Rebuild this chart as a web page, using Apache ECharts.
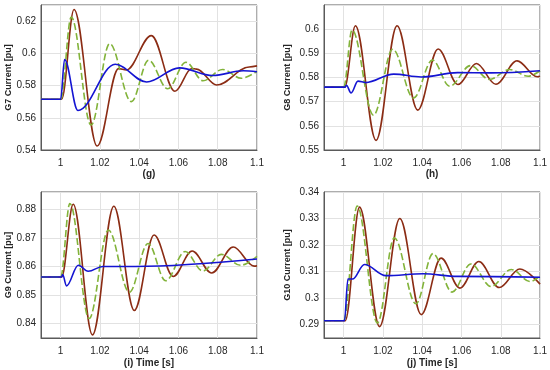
<!DOCTYPE html>
<html>
<head>
<meta charset="utf-8">
<script src="https://cdn.jsdelivr.net/npm/echarts@6/dist/echarts.min.js"></script>
<style>html,body{margin:0;padding:0;background:#fff;}#c{width:550px;height:370px;}</style>
</head>
<body>
<div id="c"></div>
<script>
// ---- data: [time (s), current (pu)] read at extrema ----
const panelNames = ['G7 Current [pu]', 'G8 Current [pu]', 'G9 Current [pu]', 'G10 Current [pu]'];
const panelXNames = ['(g)', '(h)', '(i) Time [s]', '(j) Time [s]'];
const xTickLabels = ['1', '1.02', '1.04', '1.06', '1.08', '1.1'];

const g7_brown = [[0.99,0.5715],[1.0005,0.5715],[1.0068,0.6272],[1.0186,0.5425],[1.0295,0.5905],[1.0335,0.5897],[1.0462,0.611],[1.0582,0.5765],[1.0668,0.5906],[1.0692,0.5902],[1.0795,0.5803],[1.096,0.5915],[1.1,0.5922]];
const g7_green = [[0.99,0.5715],[1.0,0.5715],[1.0054,0.6225],[1.0155,0.5555],[1.025,0.606],[1.036,0.570],[1.0448,0.5957],[1.0545,0.578],[1.0638,0.5945],[1.0725,0.583],[1.0825,0.590],[1.092,0.5845],[1.1,0.5888]];
const g7_blue  = [[0.99,0.5715],[1.0,0.5715],[1.002,0.5962],[1.0088,0.5645],[1.0278,0.5932],[1.0438,0.5822],[1.0605,0.591],[1.0775,0.5862],[1.093,0.5892],[1.1,0.5886]];

const g8_brown = [[0.99,0.576],[1.0005,0.576],[1.006,0.6014],[1.0165,0.554],[1.0272,0.6014],[1.0377,0.5665],[1.0481,0.5918],[1.0582,0.5771],[1.0676,0.5858],[1.0775,0.5772],[1.0883,0.5869],[1.0985,0.5803],[1.1,0.5805]];
const g8_green = [[0.99,0.576],[1.0,0.576],[1.0043,0.5997],[1.0152,0.5644],[1.025,0.5917],[1.0356,0.5715],[1.0452,0.5872],[1.054,0.5764],[1.0646,0.5849],[1.0742,0.5792],[1.0845,0.5833],[1.094,0.5805],[1.1,0.5828]];
const g8_blue  = [[0.99,0.576],[1.0008,0.576],[1.0014,0.5768],[1.0038,0.5736],[1.0073,0.5785],[1.0112,0.5779],[1.0255,0.5814],[1.0395,0.5802],[1.058,0.582],[1.075,0.5819],[1.1,0.5828]];

const g9_brown = [[0.99,0.8563],[1.0005,0.8563],[1.0064,0.8817],[1.0162,0.8361],[1.0271,0.881],[1.0375,0.8446],[1.0476,0.871],[1.0573,0.8565],[1.067,0.8654],[1.0769,0.8577],[1.0879,0.8668],[1.0985,0.8601],[1.1,0.8602]];
const g9_green = [[0.99,0.8563],[1.0,0.8563],[1.0047,0.882],[1.0145,0.8418],[1.0243,0.8727],[1.035,0.851],[1.0445,0.868],[1.0535,0.855],[1.0634,0.8652],[1.0724,0.8584],[1.0818,0.8642],[1.0917,0.8604],[1.1,0.8635]];
const g9_blue  = [[0.99,0.8563],[1.0005,0.8563],[1.001,0.8572],[1.003,0.8532],[1.009,0.8604],[1.014,0.8583],[1.0215,0.8600],[1.038,0.8600],[1.1,0.8626]];

const g10_brown = [[0.99,0.2915],[1.0008,0.2915],[1.0081,0.3343],[1.0183,0.2893],[1.0286,0.330],[1.0395,0.2938],[1.0496,0.3151],[1.0592,0.3038],[1.0688,0.3138],[1.0792,0.304],[1.0897,0.311],[1.1,0.3053]];
const g10_green = [[0.99,0.2915],[1.0,0.2915],[1.0069,0.3347],[1.0172,0.2907],[1.0258,0.3227],[1.0368,0.2979],[1.0455,0.3168],[1.0552,0.3023],[1.0648,0.3129],[1.0751,0.3044],[1.0853,0.3108],[1.095,0.3063],[1.1,0.3084]];
const g10_blue  = [[0.99,0.2915],[1.0004,0.2915],[1.0022,0.3072],[1.0045,0.3072],[1.0106,0.3127],[1.0215,0.3085],[1.0405,0.3092],[1.058,0.3082],[1.1,0.3079]];

// axis ranges: [min, max, step between split positions, labelled step]
const yRanges = [[0.54,0.63,0.02,0.02],[0.55,0.61,0.01,0.01],[0.835,0.886,0.005,0.01],[0.285,0.34,0.005,0.01]];
const yShowMax = [false, false, false, true];

const brownSeries = [g7_brown, g8_brown, g9_brown, g10_brown];
const greenSeries = [g7_green, g8_green, g9_green, g10_green];
const blueSeries  = [g7_blue, g8_blue, g9_blue, g10_blue];

// ---- layout / style ----
const grids = [
  {left:41, top:5, width:216, height:145},
  {left:324, top:5, width:218, height:145},
  {left:41, top:192, width:216, height:146},
  {left:324, top:192, width:218, height:146}
];
const yNameGaps = [26, 32, 26, 32];
const xNameGaps = [19, 19, 20, 20];
const FONT = '"Liberation Sans", Arial, Helvetica, sans-serif';
const GRIDC = '#e2e2e2';
const TXT = '#262626';

function fmt(step){
  return function(v){
    const r = v/step;
    if (Math.abs(r-Math.round(r)) > 1e-6) return '';
    return String(parseFloat(v.toFixed(4)));
  };
}
function xFmt(v){
  const k = Math.round(v*100);
  if (k < 100 || k % 2 !== 0) return '';
  const s = String(parseFloat((k/100).toFixed(2)));
  return xTickLabels.indexOf(s) >= 0 ? s : '';
}

const xAxes = [], yAxes = [], series = [];
for (let i = 0; i < 4; i++){
  xAxes.push({
    gridIndex:i, type:'value', min:0.99, max:1.1, interval:0.01,
    name: panelXNames[i], nameLocation:'middle', nameGap:xNameGaps[i],
    nameTextStyle:{fontFamily:FONT, fontSize:10, fontWeight:'bold', color:TXT},
    axisLine:{show:true, lineStyle:{color:'#5a5a5a', width:1}},
    axisTick:{show:false},
    axisLabel:{formatter:xFmt, margin:8, fontFamily:FONT, fontSize:10, color:TXT},
    splitLine:{show:true, lineStyle:{color:['rgba(0,0,0,0)', GRIDC], width:1}}
  });
  const yr = yRanges[i];
  const alt = yr[2] !== yr[3];
  yAxes.push({
    gridIndex:i, type:'value', min:yr[0], max:yr[1], interval:yr[2],
    name: panelNames[i], nameLocation:'middle', nameGap:yNameGaps[i], nameRotate:90,
    nameTextStyle:{fontFamily:FONT, fontSize:9, fontWeight:'bold', color:TXT},
    axisLine:{show:true, lineStyle:{color:'#5a5a5a', width:1}},
    axisTick:{show:false},
    axisLabel:{formatter:fmt(yr[3]), showMaxLabel:yShowMax[i], margin:5, fontFamily:FONT, fontSize:10, color:TXT},
    splitLine:{show:true, lineStyle:{color: alt ? ['rgba(0,0,0,0)', GRIDC] : GRIDC, width:1}}
  });
  const common = {type:'line', xAxisIndex:i, yAxisIndex:i, showSymbol:false, symbol:'none',
                  smooth:0.36, smoothMonotone:'x', animation:false, z:2};
  series.push(Object.assign({}, common, {name:'brown'+i, data:brownSeries[i],
    lineStyle:{color:'#8B2C14', width:1.6}}));
  series.push(Object.assign({}, common, {name:'green'+i, data:greenSeries[i],
    lineStyle:{color:'#82B33A', width:1.6, type:[7,3]}}));
  series.push(Object.assign({}, common, {name:'blue'+i, data:blueSeries[i],
    lineStyle:{color:'#1414D2', width:1.6}}));
}

const chart = echarts.init(document.getElementById('c'), null, {renderer:'canvas'});
chart.setOption({
  backgroundColor:'#ffffff',
  animation:false,
  grid: grids.map(g => Object.assign({show:true, borderColor:'#5a5a5a', borderWidth:1, backgroundColor:'transparent', containLabel:false}, g)),
  xAxis: xAxes,
  yAxis: yAxes,
  series: series
});
</script>
</body>
</html>
